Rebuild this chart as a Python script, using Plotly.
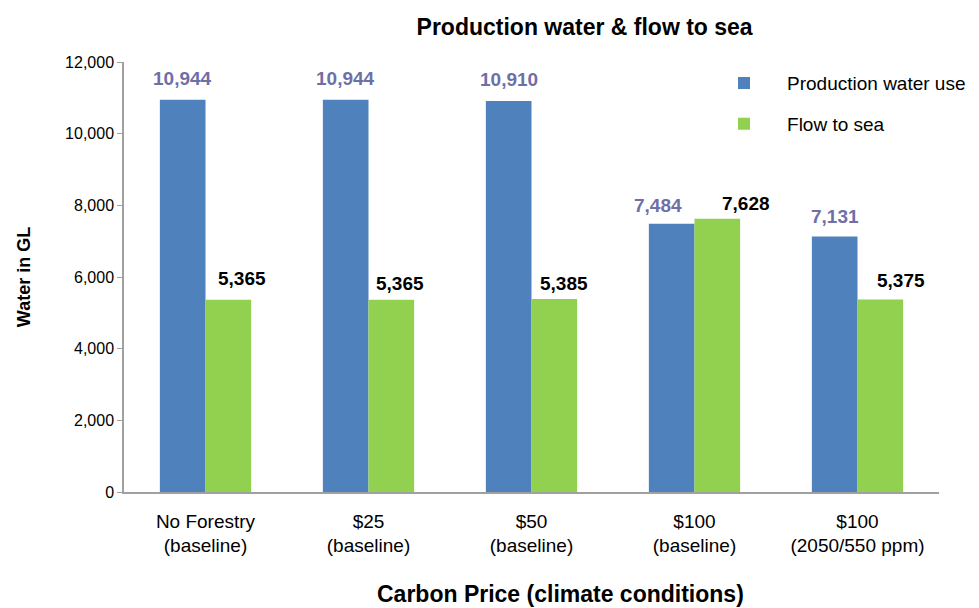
import plotly.graph_objects as go

categories = ["No Forestry<br>(baseline)", "$25<br>(baseline)", "$50<br>(baseline)",
              "$100<br>(baseline)", "$100<br>(2050/550 ppm)"]
production_water = [10944, 10944, 10910, 7484, 7131]
flow_to_sea = [5365, 5365, 5385, 7628, 5375]
y_ticks = [0, 2000, 4000, 6000, 8000, 10000, 12000]

# label nudges (pixels) as placed in the original chart
blue_label_dx = [0, 0, 0, -14, 0]
blue_label_dy = [9, 9, 9, 6, 7]
green_label_dx = [13, 8, 9, 28, 20]
green_label_dy = [9, 4, 3, 3, 6]

FONT = "Liberation Sans, Arial, sans-serif"
BLUE = "#4F81BD"
GREEN = "#92D050"
BLUE_LABEL = "#6F6FA8"

fig = go.Figure()
fig.add_trace(go.Bar(x=categories, y=production_water, name="Production water use",
                     marker=dict(color=BLUE, line=dict(width=0)), legendgroup="a"))
fig.add_trace(go.Bar(x=categories, y=flow_to_sea, name="Flow to sea",
                     marker=dict(color=GREEN, line=dict(width=0)), legendgroup="b"))

annotations = []
for c, v, dx, dy in zip(categories, production_water, blue_label_dx, blue_label_dy):
    annotations.append(dict(x=c, y=v, xref="x", yref="y", text=f"{v:,}", showarrow=False,
                            xshift=-23 + dx, yshift=dy, yanchor="bottom",
                            font=dict(family=FONT, size=19, color=BLUE_LABEL, weight="bold")))
for c, v, dx, dy in zip(categories, flow_to_sea, green_label_dx, green_label_dy):
    annotations.append(dict(x=c, y=v, xref="x", yref="y", text=f"{v:,}", showarrow=False,
                            xshift=23 + dx, yshift=dy, yanchor="bottom",
                            font=dict(family=FONT, size=19, color="black", weight="bold")))
annotations.append(dict(x=0.535, y=-0.238, xref="paper", yref="paper", showarrow=False,
                        text="<b>Carbon Price (climate conditions)</b>",
                        xanchor="center", yanchor="middle",
                        font=dict(family=FONT, size=23, color="black")))

fig.update_layout(
    width=979, height=608,
    margin=dict(l=116, r=48, t=54, b=124, autoexpand=False),
    paper_bgcolor="white", plot_bgcolor="white",
    barmode="group", bargap=0.44, bargroupgap=0,
    font=dict(family=FONT, size=16, color="black"),
    title=dict(text="<b>Production water & flow to sea</b>", x=0.589, xanchor="center",
               y=0.969, yanchor="middle", xref="container", yref="container",
               font=dict(family=FONT, size=23, color="black")),
    legend=dict(x=0.708, y=0.995, xanchor="left", yanchor="top", tracegroupgap=13,
                itemwidth=76,
                font=dict(family=FONT, size=19, color="black"), bgcolor="rgba(0,0,0,0)"),
    annotations=annotations,
    xaxis=dict(showline=True, linecolor="#A0A0A0", linewidth=1.5, ticks="", showgrid=False,
               tickfont=dict(family=FONT, size=19), ticklabelstandoff=11),
    yaxis=dict(range=[0, 12000], tickvals=y_ticks, ticktext=[f"{t:,}" for t in y_ticks],
               showline=True, linecolor="#A0A0A0", linewidth=1.5, ticks="outside",
               ticklen=5, tickcolor="#A0A0A0", showgrid=False, zeroline=False,
               tickfont=dict(family=FONT, size=16),
               title=dict(text="<b>Water in GL</b>", standoff=30,
                          font=dict(family=FONT, size=18))),
)

fig.write_html("out.html")
